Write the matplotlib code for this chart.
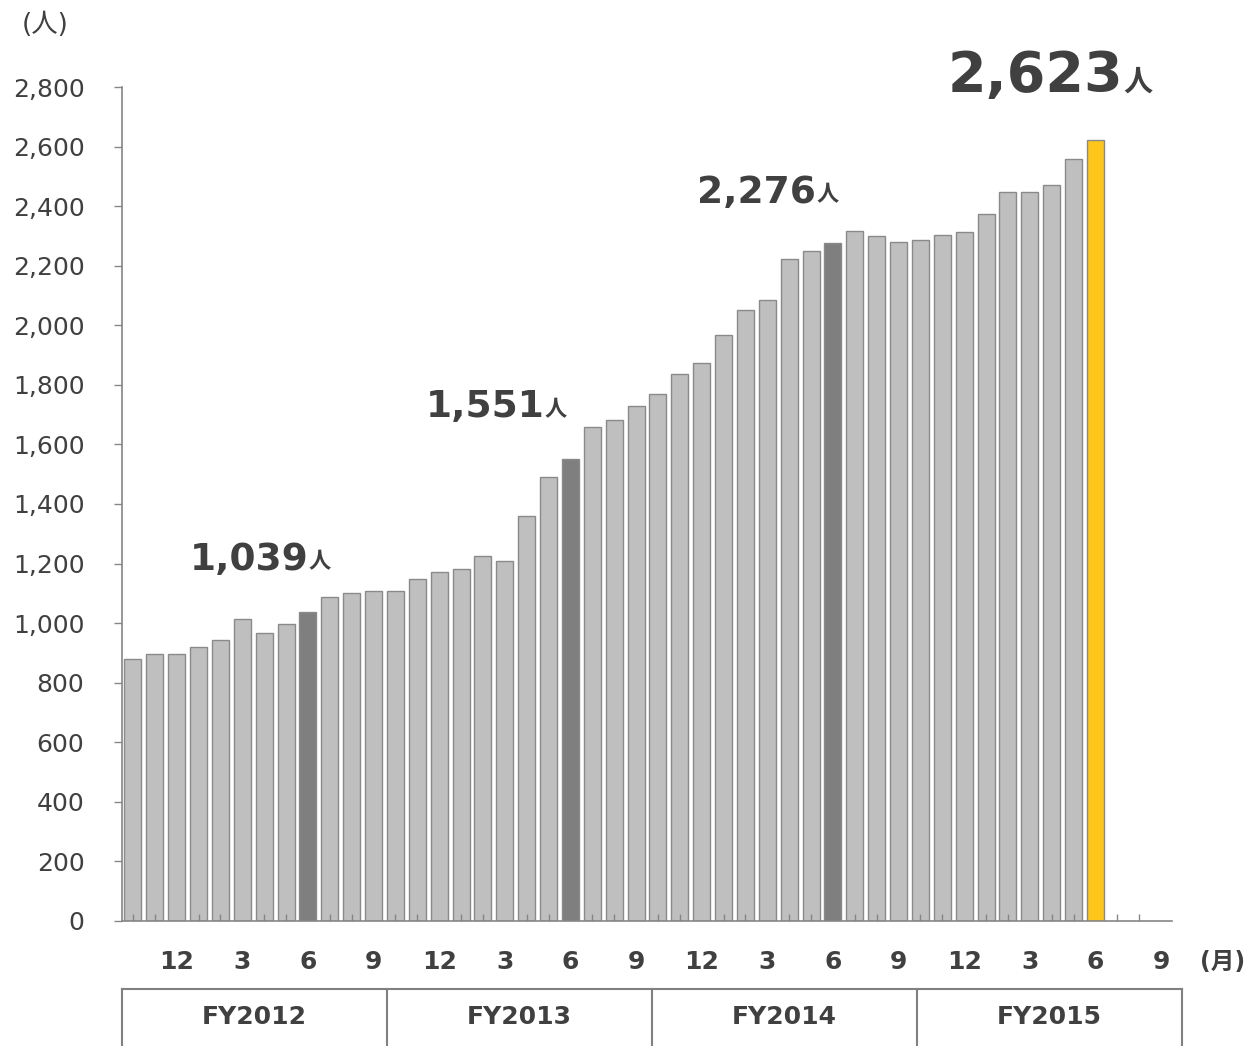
import matplotlib.pyplot as plt
from matplotlib.lines import Line2D

plt.rcParams['font.family'] = ['DejaVu Sans', 'Noto Sans CJK JP']

# monthly headcount, Oct 2011 .. Jun 2015
values = [880, 896, 896, 920, 943, 1014, 967, 997, 1039, 1088, 1101, 1108,
          1108, 1148, 1172, 1182, 1225, 1209, 1360, 1491, 1551, 1658, 1682, 1729,
          1769, 1836, 1873, 1967, 2051, 2085, 2222, 2249, 2276, 2316, 2300, 2280,
          2286, 2303, 2313, 2374, 2447, 2447, 2471, 2558, 2623]
n_slots = 48  # FY2012..FY2015, 12 months each
month_labels = ["12", "3", "6", "9"] * 4
label_pos = list(range(2, 48, 3))
fiscal_years = ["FY2012", "FY2013", "FY2014", "FY2015"]
dark_idx = [8, 20, 32]
last_idx = 44
callouts = [(8, "1,039"), (20, "1,551"), (32, "2,276"), (44, "2,623")]

txt = "#404040"
colors = []
for i in range(len(values)):
    if i == last_idx:
        colors.append("#FFC61A")
    elif i in dark_idx:
        colors.append("#7F7F7F")
    else:
        colors.append("#BFBFBF")

fig = plt.figure(figsize=(12.53, 10.46), dpi=100)
ax = fig.add_axes([122 / 1253, 1 - 921 / 1046, 1050 / 1253, 834 / 1046])
ax.set_axisbelow(False)

ax.bar(range(len(values)), values, width=0.78, color=colors,
       edgecolor="#8A8A8A", linewidth=1.0, zorder=2)

ax.set_xlim(-0.5, n_slots - 0.5)
ax.set_ylim(0, 2800)
ax.set_yticks(range(0, 2801, 200))
ax.set_yticklabels([f"{v:,}" for v in range(0, 2801, 200)], fontsize=18, color=txt)
ax.tick_params(axis="y", length=6, width=1, color="#868686", pad=21)

ax.set_xticks(range(n_slots), minor=True)
ax.set_xticks(label_pos)
ax.set_xticklabels(month_labels, fontsize=18, fontweight="bold", color=txt)
ax.tick_params(axis="x", which="major", length=0, pad=21)
ax.tick_params(axis="x", which="minor", direction="in", length=5, width=1,
               color="#868686")

for s in ("top", "right"):
    ax.spines[s].set_visible(False)
for s in ("left", "bottom"):
    ax.spines[s].set_color("#868686")
    ax.spines[s].set_linewidth(1.2)

# callout labels
offsets = {8: (-5.4, 140), 20: (-6.6, 140), 32: (-6.2, 136), 44: (-6.75, 162)}
for idx, label in callouts:
    dx, dy = offsets[idx]
    big = idx == last_idx
    t = ax.text(idx + dx, values[idx] + dy, label, fontsize=40 if big else 27,
                fontweight="bold", color=txt, ha="left", va="baseline")
    ax.annotate("人", xy=(1, 0.12), xycoords=t, fontsize=21 if big else 16,
                fontweight="bold", color=txt, ha="left", va="bottom",
                family="Noto Sans CJK JP")

fig.text(22 / 1253, 1 - 25 / 1046, "(人)", fontsize=19, color=txt,
         ha="left", va="center", family=["DejaVu Sans", "Noto Sans CJK JP"])
fig.text(1200 / 1253, 1 - 962 / 1046, "(月)", fontsize=17, fontweight="bold",
         color=txt, ha="left", va="center",
         family=["DejaVu Sans", "Noto Sans CJK JP"])

# fiscal year table
x0, x1 = 122 / 1253, 1182 / 1253
ytop = 1 - 989 / 1046
seg = (x1 - x0) / len(fiscal_years)
fig.add_artist(Line2D([x0, x1], [ytop, ytop], color="#808080", lw=1.5))
for k in range(len(fiscal_years) + 1):
    xx = x0 + k * seg
    fig.add_artist(Line2D([xx, xx], [ytop, 0], color="#808080", lw=1.5))
for k, fy in enumerate(fiscal_years):
    fig.text(x0 + (k + 0.5) * seg, 1 - 1017 / 1046, fy, fontsize=18,
             fontweight="bold", color=txt, ha="center", va="center")

fig.savefig("out.png", dpi=100)
